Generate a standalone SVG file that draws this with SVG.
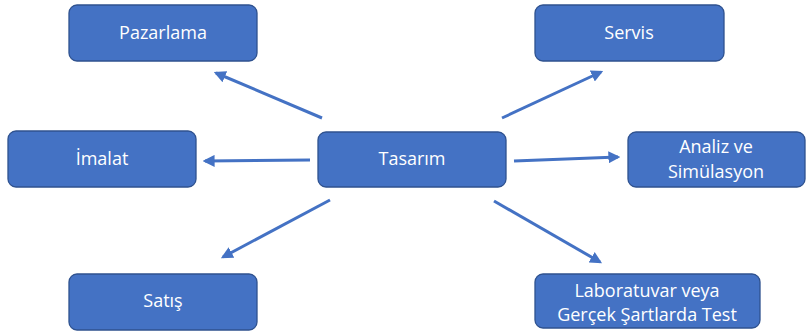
<svg xmlns="http://www.w3.org/2000/svg" width="806" height="332" viewBox="0 0 806 332">
<defs>
<style>
.box{fill:#4472C4;stroke:#2F528F;stroke-width:1.3}
.lbl{fill:#fff;font-family:"Open Sans","Liberation Sans",sans-serif;font-size:18px;text-anchor:middle}
.conn{stroke:#4472C4;stroke-width:3;fill:none;marker-end:url(#ah)}
</style>
<marker id="ah" viewBox="0 0 10 10" refX="8" refY="5" markerWidth="4" markerHeight="4" orient="auto" markerUnits="strokeWidth">
<path d="M0,0 L10,5 L0,10 z" fill="#4472C4"/>
</marker>
</defs>
<rect width="806" height="332" fill="#fff"/>
<g id="connectors">
<line class="conn" x1="322" y1="118" x2="216" y2="73"/>
<line class="conn" x1="310" y1="160" x2="205" y2="161"/>
<line class="conn" x1="330" y1="200" x2="223" y2="257"/>
<line class="conn" x1="502" y1="118" x2="601" y2="72"/>
<line class="conn" x1="514" y1="161" x2="618" y2="157"/>
<line class="conn" x1="494" y1="201" x2="600" y2="262"/>
</g>
<g id="pazarlama"><rect class="box" x="69" y="5" width="188" height="56" rx="8"/><text class="lbl" x="163" y="39">Pazarlama</text></g>
<g id="servis"><rect class="box" x="535" y="5" width="189" height="56" rx="8"/><text class="lbl" x="629" y="39">Servis</text></g>
<g id="imalat"><rect class="box" x="8" y="131" width="188" height="56" rx="8"/><text class="lbl" x="102" y="165">İmalat</text></g>
<g id="tasarim"><rect class="box" x="318" y="132" width="188" height="55" rx="8"/><text class="lbl" x="412" y="165">Tasarım</text></g>
<g id="analiz"><rect class="box" x="628" y="132" width="177" height="55" rx="8"/><text class="lbl" x="716" y="153">Analiz ve</text><text class="lbl" x="716" y="178">Simülasyon</text></g>
<g id="satis"><rect class="box" x="69" y="274" width="188" height="56" rx="8"/><text class="lbl" x="163" y="307">Satış</text></g>
<g id="lab"><rect class="box" x="535" y="274" width="225" height="54" rx="8"/><text class="lbl" x="647" y="297">Laboratuvar veya</text><text class="lbl" x="647" y="321">Gerçek Şartlarda Test</text></g>
</svg>
